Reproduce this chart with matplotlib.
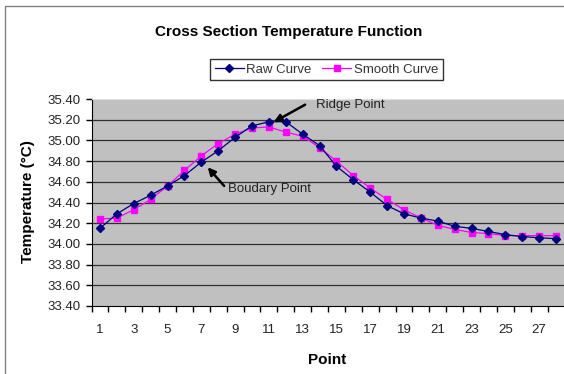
import matplotlib.pyplot as plt
from matplotlib.patches import Rectangle

plt.rcParams['font.family'] = ['Liberation Sans', 'DejaVu Sans']

# data
points = list(range(1, 29))
raw_curve = [34.15, 34.29, 34.39, 34.47, 34.56, 34.66, 34.79, 34.90, 35.03, 35.14,
             35.18, 35.18, 35.06, 34.95, 34.75, 34.62, 34.50, 34.37, 34.29, 34.25,
             34.22, 34.17, 34.15, 34.12, 34.09, 34.07, 34.06, 34.05]
smooth_curve = [34.24, 34.25, 34.33, 34.43, 34.56, 34.71, 34.85, 34.97, 35.06, 35.12,
                35.13, 35.08, 35.04, 34.93, 34.80, 34.66, 34.54, 34.43, 34.33, 34.25,
                34.18, 34.14, 34.11, 34.10, 34.08, 34.08, 34.08, 34.08]
y_ticks = [33.40, 33.60, 33.80, 34.00, 34.20, 34.40, 34.60, 34.80, 35.00, 35.20, 35.40]
x_labels = [1, 3, 5, 7, 9, 11, 13, 15, 17, 19, 21, 23, 25, 27]

W, H = 564, 374
fig = plt.figure(figsize=(W / 100, H / 100), dpi=100)

# outer chart border (cropped on right and bottom)
fig.patches.append(Rectangle((5 / W, -0.1), 1.2, 1 - 6.5 / H + 0.1,
                             transform=fig.transFigure, fill=False,
                             edgecolor='#808080', lw=1))

ax = fig.add_axes([91.5 / W, (H - 306) / H, 473 / W, 207 / H])
ax.set_facecolor('#C0C0C0')

for y in y_ticks[1:-1]:
    ax.axhline(y, color='#303030', lw=0.9, zorder=1)

ax.plot(points, raw_curve, color='#000080', marker='D', markersize=3.8,
        lw=0.9, label='Raw Curve', zorder=3)
ax.plot(points, smooth_curve, color='#FF00FF', marker='s', markersize=4.8,
        lw=0.9, label='Smooth Curve', zorder=2)

ax.set_xlim(0.5, 28.5)
ax.set_ylim(33.40, 35.40)
ax.set_yticks(y_ticks)
ax.set_yticklabels([f'{v:.2f}' for v in y_ticks], fontsize=9.5, color='#222222')
ax.set_xticks(x_labels)
ax.set_xticklabels([str(v) for v in x_labels], fontsize=9.5, color='#222222')
ax.set_xticks([i + 0.5 for i in range(0, 29)], minor=True)
ax.tick_params(axis='x', which='major', length=0, pad=13)
ax.tick_params(axis='x', which='minor', length=4, width=1, color='black')
ax.tick_params(axis='y', length=4, width=1, pad=4)

ax.spines['left'].set_color('black')
ax.spines['bottom'].set_color('black')
ax.spines['top'].set_color('#E0E0E0')
ax.spines['right'].set_visible(False)

# annotations
arrow = dict(arrowstyle='-|>', color='black', lw=1.8, mutation_scale=11)
ax.annotate('', xy=(11.15, 35.165), xytext=(13.29, 35.358), arrowprops=arrow)
ax.text(13.78, 35.342, 'Ridge Point', fontsize=9.5, color='#222222', va='center')
ax.annotate('', xy=(7.27, 34.76), xytext=(8.46, 34.54), arrowprops=arrow)
ax.text(8.56, 34.526, 'Boudary Point', fontsize=9.5, color='#222222', va='center')

fig.text(289 / W, 1 - 31.6 / H, 'Cross Section Temperature Function',
         fontsize=11, fontweight='bold', ha='center', va='center')
fig.text(327 / W, 1 - 360 / H, 'Point', fontsize=11, fontweight='bold',
         ha='center', va='center')
fig.text(28 / W, 1 - 202 / H, 'Temperature (°C)', fontsize=11, fontweight='bold',
         ha='center', va='center', rotation=90)

leg = fig.legend(loc='center', bbox_to_anchor=(326.6 / W, 1 - 69.6 / H), ncol=2,
                 fontsize=9.5, frameon=True, fancybox=False, handlelength=2.2,
                 handletextpad=0.2, columnspacing=0.8, borderpad=0.35)
leg.get_frame().set_edgecolor('black')
leg.get_frame().set_linewidth(1)
for t in leg.get_texts():
    t.set_color('#333333')

fig.savefig('out.png', dpi=100)
